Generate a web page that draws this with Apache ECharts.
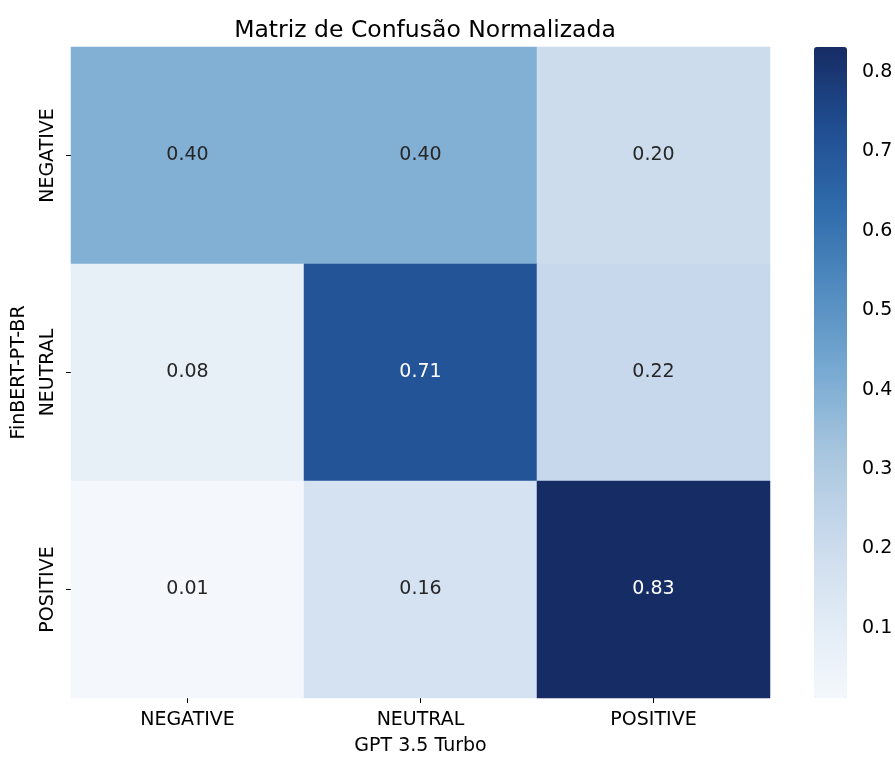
<!DOCTYPE html>
<html>
<head>
<meta charset="utf-8">
<script src="https://cdn.jsdelivr.net/npm/echarts@6/dist/echarts.min.js"></script>
<style>
  html, body { margin: 0; padding: 0; background: #fff; }
  #chart { width: 895px; height: 758px; }
</style>
</head>
<body>
<div id="chart"></div>
<script>
// Class labels (columns: predicted by GPT 3.5 Turbo, rows: FinBERT-PT-BR)
const classes = ['NEGATIVE', 'NEUTRAL', 'POSITIVE'];

// Row-normalised confusion matrix, one array per FinBERT-PT-BR row
const rowNegative = [0.40, 0.40, 0.20];
const rowNeutral  = [0.08, 0.71, 0.22];
const rowPositive = [0.01, 0.16, 0.83];
const matrixRows = [rowNegative, rowNeutral, rowPositive];

// Colour scale limits and colourbar ticks
const scaleMin = 0.0118;
const scaleMax = 0.8315;
const colorbarTicks = [0.1, 0.2, 0.3, 0.4, 0.5, 0.6, 0.7, 0.8];

// Sequential blue palette (evenly spaced stops, light to dark)
const blues = ['#f4f8fc', '#e0eaf5', '#c8d9ec', '#a8c6de', '#78aad2',
               '#528cc0', '#306cac', '#204e92', '#162c64'];

const FONT = 'DejaVu Sans';
const FS = 19;

const cells = [];
matrixRows.forEach((row, r) => {
  row.forEach((v, c) => cells.push([c, r, v]));
});

const chart = echarts.init(document.getElementById('chart'), null, { renderer: 'canvas' });

chart.setOption({
  backgroundColor: '#ffffff',
  animation: false,
  textStyle: { fontFamily: FONT },
  title: {
    text: 'Matriz de Confusão Normalizada',
    left: 420, top: 14, textAlign: 'center',
    textStyle: { fontFamily: FONT, fontSize: 23.5, fontWeight: 'normal', color: '#000' }
  },
  grid: [
    { left: 71, top: 47, width: 699, height: 651, outerBoundsMode: 'none', containLabel: false },
    { left: 814, top: 47, width: 33, height: 651, outerBoundsMode: 'none', containLabel: false }
  ],
  xAxis: [
    {
      type: 'category', gridIndex: 0, data: classes,
      name: 'GPT 3.5 Turbo', nameLocation: 'middle', nameGap: 39,
      nameTextStyle: { fontFamily: FONT, fontSize: FS, color: '#000' },
      axisLine: { show: false },
      axisTick: { show: true, alignWithLabel: true, length: 5, lineStyle: { color: '#000' } },
      axisLabel: { fontFamily: FONT, fontSize: FS, color: '#000', margin: 13 },
      splitLine: { show: false }
    },
    {
      type: 'value', gridIndex: 1, min: 0, max: 1, show: false
    }
  ],
  yAxis: [
    {
      type: 'category', gridIndex: 0, data: classes, inverse: true,
      name: 'FinBERT-PT-BR', nameLocation: 'middle', nameGap: 42,
      nameTextStyle: { fontFamily: FONT, fontSize: FS, color: '#000' },
      axisLine: { show: false },
      axisTick: { show: true, alignWithLabel: true, length: 5, lineStyle: { color: '#000' } },
      axisLabel: { fontFamily: FONT, fontSize: FS, color: '#000', rotate: 90, margin: 13 },
      splitLine: { show: false }
    },
    {
      type: 'value', gridIndex: 1, position: 'right',
      min: scaleMin, max: scaleMax,
      axisLine: { show: false },
      axisTick: { show: true, length: 5, lineStyle: { color: '#000' }, customValues: colorbarTicks },
      axisLabel: {
        fontFamily: FONT, fontSize: FS, color: '#000', margin: 15,
        customValues: colorbarTicks,
        formatter: v => v.toFixed(1)
      },
      splitLine: { show: false }
    }
  ],
  visualMap: {
    type: 'continuous',
    min: scaleMin, max: scaleMax,
    seriesIndex: 0,
    calculable: false,
    showLabel: false,
    text: null,
    orient: 'vertical',
    left: 814, top: 47,
    itemWidth: 33, itemHeight: 651,
    padding: 0,
    borderRadius: 0,
    inRange: { color: blues },
    handleStyle: { opacity: 0 },
    indicatorStyle: { opacity: 0 }
  },
  series: [
    {
      type: 'heatmap',
      xAxisIndex: 0, yAxisIndex: 0,
      data: cells.map(d => ({
        value: d,
        label: { color: d[2] > 0.6 ? '#ffffff' : '#262626' }
      })),
      label: {
        show: true,
        fontFamily: FONT, fontSize: FS,
        formatter: p => p.value[2].toFixed(2)
      },
      itemStyle: { borderWidth: 0 },
      emphasis: { disabled: true }
    }
  ]
});
</script>
</body>
</html>
